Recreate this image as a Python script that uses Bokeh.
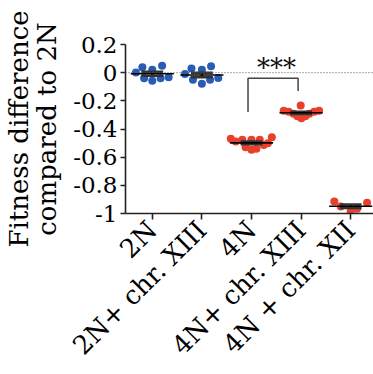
import numpy as np
from bokeh.plotting import figure
from bokeh.models import Range1d, FixedTicker, Label, Span
from bokeh.embed import file_html
from bokeh.resources import INLINE

# Strains on the x axis
groups = ["2N", "2N+ chr. XIII", "4N", "4N+ chr. XIII", "4N + chr. XII"]
blue = "#2B5CB5"
red = "#E8402A"
group_colors = [blue, blue, red, red, red]

# Fitness difference relative to 2N, one value per replicate
fit_2n = [0.002, 0.038, -0.040, 0.021, -0.057, -0.040, 0.050, -0.033]
fit_2n_xiii = [-0.009, 0.030, -0.050, 0.020, -0.078, -0.050, 0.045, -0.038]
fit_4n = [-0.470, -0.489, -0.477, -0.530, -0.548, -0.477, -0.541, -0.477,
          -0.513, -0.501, -0.459]
fit_4n_xiii = [-0.270, -0.277, -0.291, -0.309, -0.323, -0.309, -0.291,
               -0.277, -0.270, -0.234]
fit_4n_xii = [-0.915, -0.950, -0.986, -0.967, -0.924]

# Horizontal spread of the replicate dots (category units)
jit_2n = [-0.33, -0.20, -0.165, 0.0, 0.0, 0.167, 0.198, 0.33]
jit_2n_xiii = [-0.34, -0.21, -0.18, 0.0, 0.0, 0.165, 0.185, 0.33]
jit_4n = [-0.417, -0.317, -0.185, -0.119, 0.0, 0.0, 0.099, 0.167, 0.246,
          0.331, 0.41]
jit_4n_xiii = [-0.35, -0.25, -0.153, -0.073, 0.006, 0.085, 0.165, 0.264,
               0.363, -0.008]
jit_4n_xii = [-0.33, -0.20, 0.0, 0.13, 0.33]

series = [fit_2n, fit_2n_xiii, fit_4n, fit_4n_xiii, fit_4n_xii]
jitters = [jit_2n, jit_2n_xiii, jit_4n, jit_4n_xiii, jit_4n_xii]

y_ticks = [-1.0, -0.8, -0.6, -0.4, -0.2, 0.0, 0.2]
y_tick_labels = ["-1", "-0.8", "-0.6", "-0.4", "-0.2", "0", "0.2"]
y_title = "Fitness difference\ncompared to 2N"

# Significance bracket between 4N and 4N+ chr. XIII
bracket_x = [1.93, 1.93, 2.94, 2.94]
bracket_y = [-0.28, -0.04, -0.04, -0.13]
sig_text = "***"

FONT = "DejaVu Serif"
X0, X1 = -0.54, 4.46
Y0, Y1 = -1.0, 0.2

p = figure(width=373, height=374, output_backend="svg", toolbar_location=None,
           x_range=Range1d(X0, X1), y_range=Range1d(Y0, Y1),
           min_border_left=121, min_border_right=0, min_border_top=44,
           min_border_bottom=161)
p.outline_line_color = None
p.grid.visible = False
p.background_fill_color = "white"

for ax in (p.xaxis[0], p.yaxis[0]):
    ax.axis_line_color = "#222222"
    ax.axis_line_width = 1.6
    ax.major_tick_line_color = "#222222"
    ax.major_tick_line_width = 1.6
    ax.major_tick_in = 0
    ax.minor_tick_line_color = None
    ax.major_label_text_font = FONT
    ax.major_label_text_color = "black"

p.xaxis.ticker = FixedTicker(ticks=list(range(len(groups))))
p.xaxis.major_label_overrides = {i: g for i, g in enumerate(groups)}
p.xaxis.major_label_orientation = np.pi / 4
p.xaxis.major_label_text_font_size = "26px"
p.xaxis.major_tick_out = 6
p.xaxis.major_label_standoff = 6

p.yaxis.ticker = FixedTicker(ticks=y_ticks)
p.yaxis.major_label_overrides = dict(zip(y_ticks, y_tick_labels))
p.yaxis.major_label_text_font_size = "23px"
p.yaxis.major_tick_out = 5
p.yaxis.major_label_standoff = 3
p.yaxis.axis_label = y_title
p.yaxis.axis_label_text_font = FONT
p.yaxis.axis_label_text_font_size = "26px"
p.yaxis.axis_label_text_font_style = "normal"
p.yaxis.axis_label_text_color = "black"
p.yaxis.axis_label_text_line_height = 0.95
p.yaxis.axis_label_standoff = 8

# zero reference
p.add_layout(Span(location=0, dimension="width", line_color="#555555",
                  line_width=1, line_dash="1 2"))

# replicate dots
for i, (vals, jit, col) in enumerate(zip(series, jitters, group_colors)):
    xs = [i + j for j in jit]
    p.scatter(xs, vals, size=8, fill_color=col, line_color=None)

# mean and SEM
for i, vals in enumerate(series):
    v = np.array(vals)
    m = v.mean()
    sem = v.std(ddof=1) / np.sqrt(len(v))
    p.segment(x0=[i], x1=[i], y0=[m - sem], y1=[m + sem],
              line_color="#333333", line_width=2.5)
    p.segment(x0=[i - 0.22, i - 0.22], x1=[i + 0.22, i + 0.22],
              y0=[m - sem, m + sem], y1=[m - sem, m + sem],
              line_color="#333333", line_width=2.5)
    p.segment(x0=[i - 0.435], x1=[i + 0.435], y0=[m], y1=[m],
              line_color="black", line_width=1.6)

# significance bracket and stars
p.line(bracket_x, bracket_y, line_color="#444444", line_width=1.5)
p.add_layout(Label(x=sum(bracket_x[1:3]) / 2 + 0.07, y=bracket_y[1],
                   y_offset=10, text=sig_text, text_font=FONT,
                   text_font_size="26px", text_align="center",
                   text_baseline="middle", text_color="#111111"))

open("out.html", "w").write(file_html(p, INLINE))
